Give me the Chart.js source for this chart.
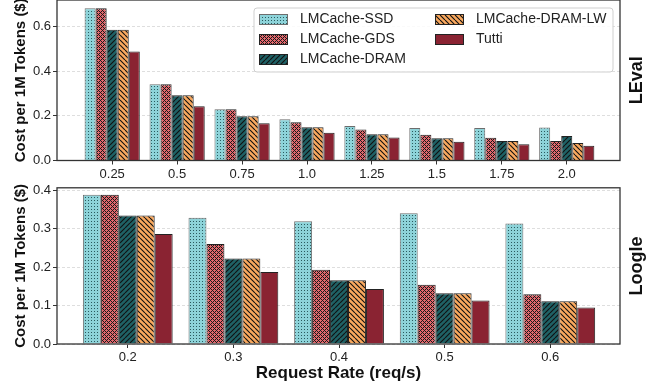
<!DOCTYPE html>
<html>
<head>
<meta charset="utf-8">
<script src="https://cdn.jsdelivr.net/npm/chart.js@4/dist/chart.umd.min.js"></script>
<style>
body { margin: 0; width: 657px; height: 389px; overflow: hidden; background: #fff; position: relative; }
canvas { position: absolute; left: 0; }
#leval { top: -20px; }
#loogle { top: 178px; }
</style>
</head>
<body>
<canvas id="leval" width="657" height="200"></canvas>
<canvas id="loogle" width="657" height="211"></canvas>
<script>
var series = ['LMCache-SSD', 'LMCache-GDS', 'LMCache-DRAM', 'LMCache-DRAM-LW', 'Tutti'];

// LEval panel
var levalRates = ['0.25', '0.5', '0.75', '1.0', '1.25', '1.5', '1.75', '2.0'];
var levalSSD   = [0.683, 0.342, 0.230, 0.185, 0.155, 0.146, 0.146, 0.148];
var levalGDS   = [0.683, 0.342, 0.230, 0.172, 0.139, 0.115, 0.102, 0.087];
var levalDRAM  = [0.586, 0.293, 0.199, 0.149, 0.118, 0.100, 0.087, 0.110];
var levalLW    = [0.586, 0.293, 0.199, 0.149, 0.118, 0.100, 0.087, 0.078];
var levalTutti = [0.489, 0.243, 0.167, 0.124, 0.103, 0.084, 0.073, 0.066];

// Loogle panel
var loogleRates = ['0.2', '0.3', '0.4', '0.5', '0.6'];
var loogleSSD   = [0.388, 0.328, 0.319, 0.340, 0.313];
var loogleGDS   = [0.388, 0.260, 0.193, 0.154, 0.129];
var loogleDRAM  = [0.334, 0.222, 0.166, 0.132, 0.111];
var loogleLW    = [0.334, 0.222, 0.166, 0.132, 0.111];
var loogleTutti = [0.286, 0.187, 0.143, 0.113, 0.095];

var FONT = '"Liberation Sans", Arial, sans-serif';

// small tiles used as hatch fills
function makePattern(bg, kind) {
	var s = kind == 'dots' ? 3 : kind == 'cross' ? 4 : 5;
	var c = document.createElement('canvas');
	c.width = s; c.height = s;
	var g = c.getContext('2d');
	g.fillStyle = bg;
	g.fillRect(0, 0, s, s);
	if (kind == 'dots') {
		g.fillStyle = '#2a5a5e';
		g.fillRect(1, 1, 1, 1);
	} else if (kind == 'cross') {
		g.fillStyle = '#1a1a1a';
		for (var x = 0; x < s; x++)
			for (var y = 0; y < s; y++)
				if ((x + y) % 4 == 0 || (x - y + 4) % 4 == 0) g.fillRect(x, y, 1, 1);
	} else {
		// diagonal stripes, '/' or '\'
		g.strokeStyle = '#111';
		g.lineWidth = 1.1;
		g.beginPath();
		for (var k = -1; k <= 1; k++) {
			if (kind == 'fwd') { g.moveTo(k * s, s); g.lineTo(k * s + s, 0); }
			else { g.moveTo(k * s, 0); g.lineTo(k * s + s, s); }
		}
		g.stroke();
	}
	return g.createPattern(c, 'repeat');
}

var fills = [
	makePattern('#8dd3d9', 'dots'),
	makePattern('#e2676c', 'cross'),
	makePattern('#1f6165', 'fwd'),
	makePattern('#f9a85e', 'back'),
	'#8a2332'
];
var edges = ['#6d6d6d', '#222', '#222', '#222', '#222'];

// box around the plot and panel name on the right
var framePlugin = {
	id: 'frame',
	afterDraw: function (chart, args, opts) {
		var a = chart.chartArea, ctx = chart.ctx;
		ctx.save();
		ctx.strokeStyle = '#333';
		ctx.lineWidth = 1.3;
		ctx.strokeRect(a.left, a.top, a.right - a.left, a.bottom - a.top);
		ctx.translate(a.right + 17, (a.top + a.bottom) / 2);
		ctx.rotate(-Math.PI / 2);
		ctx.font = 'bold 18px ' + FONT;
		ctx.fillStyle = '#111';
		ctx.textAlign = 'center';
		ctx.textBaseline = 'middle';
		ctx.fillText(opts.name, 0, 0);
		ctx.restore();
	}
};

// matplotlib style legend, 2 columns filled column first
var boxLegend = {
	id: 'boxLegend',
	afterDatasetsDraw: function (chart) {
		var a = chart.chartArea, ctx = chart.ctx;
		var w = 359, h = 64;
		var bx = a.right - 7 - w, by = a.top + 8;
		ctx.save();
		ctx.beginPath();
		ctx.roundRect(bx, by, w, h, 3);
		ctx.fillStyle = 'rgba(255,255,255,0.85)';
		ctx.fill();
		ctx.strokeStyle = '#cfcfcf';
		ctx.lineWidth = 1;
		ctx.stroke();
		ctx.font = '14px ' + FONT;
		ctx.textBaseline = 'middle';
		chart.data.datasets.forEach(function (ds, i) {
			var col = Math.floor(i / 3), row = i % 3;
			var sx = bx + 5 + col * 176, sy = by + 11 + row * 20;
			ctx.fillStyle = ds.backgroundColor;
			ctx.fillRect(sx, sy - 5, 28, 10);
			ctx.strokeStyle = ds.borderColor;
			ctx.strokeRect(sx + 0.5, sy - 4.5, 28, 10);
			ctx.fillStyle = '#222';
			ctx.fillText(ds.label, sx + 41, sy);
		});
		ctx.restore();
	}
};

function makeChart(id, rates, values, yMax, panel, xMin, xMax, padTop, xHeight, xTitle, extra) {
	var datasets = series.map(function (name, k) {
		return {
			label: name,
			data: values[k].map(function (v, i) { return { x: i, y: v }; }),
			backgroundColor: fills[k],
			borderColor: edges[k],
			borderWidth: 1,
			categoryPercentage: 0.85,
			barPercentage: 1.0
		};
	});
	return new Chart(document.getElementById(id), {
		type: 'bar',
		data: { datasets: datasets },
		plugins: [framePlugin].concat(extra),
		options: {
			responsive: false,
			animation: false,
			layout: { padding: { left: 0, right: 37, top: padTop, bottom: 0 } },
			plugins: {
				legend: { display: false },
				tooltip: { enabled: false },
				frame: { name: panel }
			},
			scales: {
				x: {
					type: 'linear',
					min: xMin,
					max: xMax,
					offset: false,
					afterBuildTicks: function (s) {
						s.ticks = rates.map(function (r, i) { return { value: i }; });
					},
					afterFit: function (s) { s.height = xHeight; },
					ticks: {
						padding: 2,
						color: '#222',
						font: { family: FONT, size: 13 },
						callback: function (v) { return rates[v]; }
					},
					grid: { offset: false, drawOnChartArea: false, tickLength: 4, tickColor: '#333', tickWidth: 1 },
					border: { display: false },
					title: {
						display: !!xTitle,
						text: xTitle,
						color: '#111',
						font: { family: FONT, size: 17, weight: 'bold' },
						padding: { top: 0, bottom: 5 }
					}
				},
				y: {
					min: 0,
					max: yMax,
					afterFit: function (s) { s.width = 57; },
					ticks: {
						stepSize: 0.1 * (yMax > 0.5 ? 2 : 1),
						includeBounds: false,
						padding: 2,
						color: '#222',
						font: { family: FONT, size: 13 },
						callback: function (v) { return v.toFixed(1); }
					},
					grid: {
						color: '#d6d6d6',
						lineWidth: 0.8,
						tickLength: 4,
						tickColor: '#333',
						tickWidth: 1,
						tickBorderDash: []
					},
					border: { display: false, dash: [3, 2] },
					title: {
						display: true,
						text: 'Cost per 1M Tokens ($)',
						color: '#111',
						font: { family: FONT, size: 15, weight: 'bold' },
						padding: { top: 12, bottom: 0 }
					}
				}
			}
		}
	});
}

window.levalChart = makeChart('leval', levalRates,
	[levalSSD, levalGDS, levalDRAM, levalLW, levalTutti],
	0.72, 'LEval', -0.85, 7.82, 20, 19.5, '', [boxLegend]);

window.loogleChart = makeChart('loogle', loogleRates,
	[loogleSSD, loogleGDS, loogleDRAM, loogleLW, loogleTutti],
	0.406, 'Loogle', -0.67, 4.66, 7, 45, 'Request Rate (req/s)', []);
</script>
</body>
</html>
